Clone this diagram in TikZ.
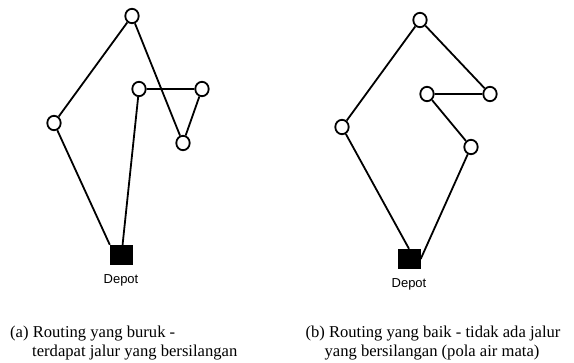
\documentclass[tikz,border=0pt]{standalone}
\usepackage{fontspec}
\setmainfont{Liberation Serif}
\newfontfamily\depotfont{Liberation Sans}
\usetikzlibrary{shapes.geometric}
\begin{document}
\begin{tikzpicture}[x=1pt,y=-1pt,
  cust/.style={draw,ellipse,line width=1.8pt,fill=white,minimum width=13.4pt,minimum height=14.4pt,inner sep=0pt},
  depot/.style={fill=black,minimum width=23pt,minimum height=20pt,inner sep=0pt},
  route/.style={line width=1.8pt},
  dlabel/.style={font=\depotfont\fontsize{13}{15}\selectfont,inner sep=0pt,anchor=base},
  captext/.style={font=\fontsize{16.6}{19}\selectfont,inner sep=0pt}]
\useasboundingbox (0,0) rectangle (574,363);
% left panel
\node[depot] (dA) at (121.5,255) {};
\node[dlabel] (lA) at (121,283.5) {Depot};
\node[cust] (a1) at (54,123) {};
\node[cust] (a2) at (132,16) {};
\node[cust] (a3) at (183,143) {};
\node[cust] (a4) at (202,89) {};
\node[cust] (a5) at (139,89) {};
\draw[route] (dA.north west) -- (a1) -- (a2) -- (a3) -- (a4) -- (a5) -- (dA);
% right panel
\node[depot] (dB) at (409,259) {};
\node[dlabel] (lB) at (409,287.5) {Depot};
\node[cust] (b1) at (342,127) {};
\node[cust] (b2) at (420,20) {};
\node[cust] (b3) at (490,94) {};
\node[cust] (b4) at (427,94) {};
\node[cust] (b5) at (471,147) {};
\draw[route] (dB.north) -- (b1) -- (b2) -- (b3) -- (b4) -- (b5) -- (dB.east);
% captions
\node[captext,anchor=base west] (cA1) at (10,337.5) {(a) Routing yang buruk -};
\node[captext,anchor=base west] (cA2) at (32,356.5) {terdapat jalur yang bersilangan};
\node[captext,anchor=base] (cB1) at (433,337.5) {(b) Routing yang baik - tidak ada jalur};
\node[captext,anchor=base] (cB2) at (432,356.5) {yang bersilangan (pola air mata)};
\end{tikzpicture}
\end{document}
